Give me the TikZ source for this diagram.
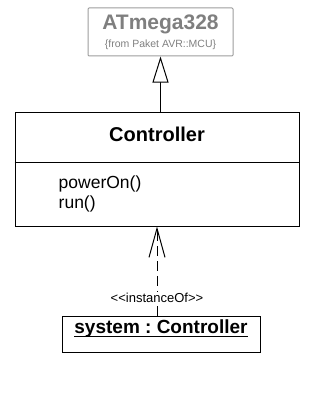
\documentclass[tikz,border=0pt]{standalone}
\usepackage{fontspec}
\setmainfont{Liberation Sans}
\usetikzlibrary{arrows.meta, positioning, calc}
\definecolor{umlGrey}{HTML}{7F7F7F}
\definecolor{umlFrame}{HTML}{9C9C9C}
\newcommand{\objline}[1]{\setbox0\hbox{#1}\rlap{\rule[-3.5pt]{\wd0}{1.2pt}}\box0}
\tikzset{
  umlbox/.style     = {draw, line width=1pt, inner sep=0pt},
  importbox/.style  = {umlbox, draw=umlFrame, rounded corners=1pt},
  boldlbl/.style    = {font=\fontsize{#1}{#1}\selectfont\bfseries, inner sep=0pt},
  plainlbl/.style   = {font=\fontsize{#1}{#1}\selectfont, inner sep=0pt},
  generalize/.style = {-{Triangle[open, length=26pt, width=16pt, fill=white]},
                       line width=1pt},
  instanceof/.style = {-{Straight Barb[length=29pt, width=16pt]},
                       line width=1pt, dash pattern=on 10pt off 5pt},
}
\frenchspacing

\begin{document}
\begin{tikzpicture}[x=1pt, y=-1pt]
  \useasboundingbox (0,0) rectangle (313,396);

  % imported class
  \node[importbox, minimum width=145pt, minimum height=48pt] (mcu) at (160.5,32) {};
  \node[boldlbl=21, text=umlGrey] (mcuname) at (160.5,24) {ATmega328};
  \node[plainlbl=10.5, text=umlGrey] (mcupkg) at (160.5,44.5) {\{from Paket AVR::MCU\}};

  % class with operations
  \node[umlbox, minimum width=284pt, minimum height=114pt] (ctrl) at (157,169) {};
  \draw[line width=1pt] (ctrl.west |- 0,162) -- (ctrl.east |- 0,162);
  \node[boldlbl=20] (ctrlname) at (157,134) {Controller};
  \node[plainlbl=17.5, anchor=west] (powerop) at (58.5,184) {powerOn()};
  \node[plainlbl=17.5, anchor=west] (runop) at (58.5,204) {run()};

  % object
  \node[umlbox, minimum width=198pt, minimum height=36pt] (sys) at (161,334) {};
  \node[boldlbl=19] (sysname) at (161,328.5) {\objline{system : Controller}};

  \draw[generalize] (ctrl.north -| mcu.south) -- (mcu.south);
  \draw[instanceof] (sys.north -| ctrl.south) -- (ctrl.south);
  \node[plainlbl=13, fill=white, inner sep=1pt] (deplbl) at (157,297.5)
    {<\kern0pt<instanceOf>\kern0pt>};
\end{tikzpicture}
\end{document}
